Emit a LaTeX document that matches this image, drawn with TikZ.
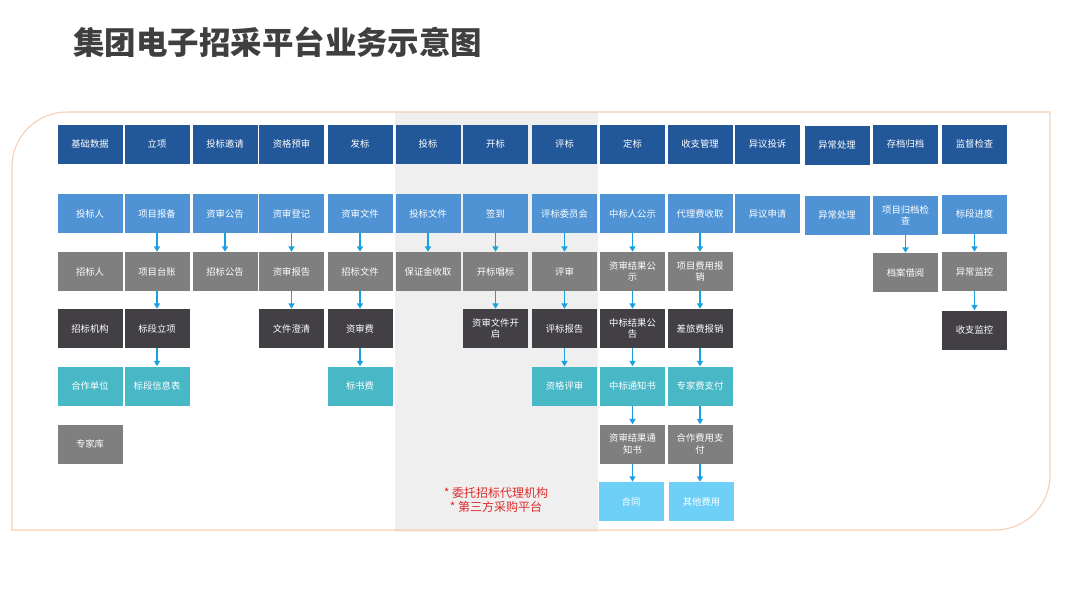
\documentclass[tikz,border=0pt]{standalone}
\usepackage{fontspec}
\setmainfont{Noto Sans CJK SC}
\usetikzlibrary{arrows.meta}

\definecolor{hdrblue}{HTML}{22579A}
\definecolor{stepblue}{HTML}{4F93D5}
\definecolor{boxgray}{HTML}{7F7F7F}
\definecolor{boxdark}{HTML}{423F45}
\definecolor{boxteal}{HTML}{48B8C7}
\definecolor{boxsky}{HTML}{6FD0F7}
\definecolor{flowblue}{HTML}{1AA0E0}
\definecolor{bandgray}{HTML}{EFEFEF}
\definecolor{framepeach}{HTML}{F5CFB5}
\definecolor{titlegray}{HTML}{3F3F3F}
\definecolor{notered}{HTML}{E02B2B}

\tikzset{
  box/.style={minimum width=48.75pt, minimum height=29.25pt, inner sep=0pt,
    align=center, text=white, font=\fontsize{7}{8.5}\selectfont},
  hdr/.style={box, fill=hdrblue},
  lvtwo/.style={box, fill=stepblue},
  lvgray/.style={box, fill=boxgray},
  lvdark/.style={box, fill=boxdark},
  lvteal/.style={box, fill=boxteal},
  lvsky/.style={box, fill=boxsky},
  flow/.style={draw=flowblue, line width=1pt, -{Triangle[length=4pt,width=4.5pt]}}
}

\begin{document}
\begin{tikzpicture}[x=0.75pt, y=-0.75pt]
    \useasboundingbox (0,0) rectangle (1080,607);

    % Title
    \node[anchor=west, inner sep=0pt, text=titlegray, font=\fontsize{23.6}{26}\selectfont\bfseries] (ttl) at (73,42) {集团电子招采平台业务示意图};

    % Shaded band behind the outsourced steps
    \fill[bandgray] (395,112) rectangle (598,532);

    % Frame with two round corners
    \draw[framepeach, line width=0.8pt] (12,530) -- (12,167) .. controls (12,136.6) and (36.6,112) .. (67,112) -- (1050,112) -- (1050,475) .. controls (1050,505.4) and (1025.4,530) .. (995,530) -- cycle;

    % Column 1: base data
    \node[hdr] (c1r1) at (90,144) {基础数据};
    \node[lvtwo] (c1r2) at (90,213.5) {投标人};
    \node[lvgray] (c1r3) at (90,271.5) {招标人};
    \node[lvdark] (c1r4) at (90,328.5) {招标机构};
    \node[lvteal] (c1r5) at (90,386) {合作单位};
    \node[lvgray] (c1r6) at (90,444) {专家库};

    % Column 2: project set-up
    \node[hdr] (c2r1) at (157,144) {立项};
    \node[lvtwo] (c2r2) at (157,213.5) {项目报备};
    \node[lvgray] (c2r3) at (157,271.5) {项目台账};
    \node[lvdark] (c2r4) at (157,328.5) {标段立项};
    \node[lvteal] (c2r5) at (157,386) {标段信息表};

    % Column 3
    \node[hdr] (c3r1) at (225,144) {投标邀请};
    \node[lvtwo] (c3r2) at (225,213.5) {资审公告};
    \node[lvgray] (c3r3) at (225,271.5) {招标公告};

    % Column 4
    \node[hdr] (c4r1) at (291.5,144) {资格预审};
    \node[lvtwo] (c4r2) at (291.5,213.5) {资审登记};
    \node[lvgray] (c4r3) at (291.5,271.5) {资审报告};
    \node[lvdark] (c4r4) at (291.5,328.5) {文件澄清};

    % Column 5
    \node[hdr] (c5r1) at (360,144) {发标};
    \node[lvtwo] (c5r2) at (360,213.5) {资审文件};
    \node[lvgray] (c5r3) at (360,271.5) {招标文件};
    \node[lvdark] (c5r4) at (360,328.5) {资审费};
    \node[lvteal] (c5r5) at (360,386) {标书费};

    % Column 6
    \node[hdr] (c6r1) at (428,144) {投标};
    \node[lvtwo] (c6r2) at (428,213.5) {投标文件};
    \node[lvgray] (c6r3) at (428,271.5) {保证金收取};

    % Column 7
    \node[hdr] (c7r1) at (495.5,144) {开标};
    \node[lvtwo] (c7r2) at (495.5,213.5) {签到};
    \node[lvgray] (c7r3) at (495.5,271.5) {开标唱标};
    \node[lvdark] (c7r4) at (495.5,328.5) {资审文件开\\启};

    % Column 8
    \node[hdr] (c8r1) at (564.5,144) {评标};
    \node[lvtwo] (c8r2) at (564.5,213.5) {评标委员会};
    \node[lvgray] (c8r3) at (564.5,271.5) {评审};
    \node[lvdark] (c8r4) at (564.5,328.5) {评标报告};
    \node[lvteal] (c8r5) at (564.5,386) {资格评审};

    % Column 9
    \node[hdr] (c9r1) at (632.5,144) {定标};
    \node[lvtwo] (c9r2) at (632.5,213.5) {中标人公示};
    \node[lvgray] (c9r3) at (632.5,271.5) {资审结果公\\示};
    \node[lvdark] (c9r4) at (632.5,328.5) {中标结果公\\告};
    \node[lvteal] (c9r5) at (632.5,386) {中标通知书};
    \node[lvgray] (c9r6) at (632.5,444) {资审结果通\\知书};
    \node[lvsky] (c9r7) at (631,501.5) {合同};

    % Column 10
    \node[hdr] (c10r1) at (700,144) {收支管理};
    \node[lvtwo] (c10r2) at (700,213.5) {代理费收取};
    \node[lvgray] (c10r3) at (700,271.5) {项目费用报\\销};
    \node[lvdark] (c10r4) at (700,328.5) {差旅费报销};
    \node[lvteal] (c10r5) at (700,386) {专家费支付};
    \node[lvgray] (c10r6) at (700,444) {合作费用支\\付};
    \node[lvsky] (c10r7) at (701.5,501.5) {其他费用};

    % Columns 11 to 14
    \node[hdr] (c11r1) at (767.5,144) {异议投诉};
    \node[lvtwo] (c11r2) at (767.5,213.5) {异议申请};
    \node[hdr] (c12r1) at (837,145) {异常处理};
    \node[lvtwo] (c12r2) at (837,215) {异常处理};
    \node[hdr] (c13r1) at (905.5,144) {存档归档};
    \node[lvtwo] (c13r2) at (905.5,215) {项目归档检\\查};
    \node[lvgray] (c13r3) at (905.5,272.5) {档案借阅};
    \node[hdr] (c14r1) at (974.5,144) {监督检查};
    \node[lvtwo] (c14r2) at (974.5,214) {标段进度};
    \node[lvgray] (c14r3) at (974.5,271.5) {异常监控};
    \node[lvdark] (c14r4) at (974.5,330) {收支监控};

    % Note in the shaded band
    \node[align=center, text=notered, font=\fontsize{9}{10.5}\selectfont] (note) at (496,500) {* 委托招标代理机构\\* 第三方采购平台};

    % Draw the flows
    \draw[flow] (c2r2) -- (c2r3);
    \draw[flow] (c2r3) -- (c2r4);
    \draw[flow] (c2r4) -- (c2r5);
    \draw[flow] (c3r2) -- (c3r3);
    \draw[flow] (c4r2) -- (c4r3);
    \draw[flow] (c4r3) -- (c4r4);
    \draw[flow] (c5r2) -- (c5r3);
    \draw[flow] (c5r3) -- (c5r4);
    \draw[flow] (c5r4) -- (c5r5);
    \draw[flow] (c6r2) -- (c6r3);
    \draw[flow] (c7r2) -- (c7r3);
    \draw[flow] (c7r3) -- (c7r4);
    \draw[flow] (c8r2) -- (c8r3);
    \draw[flow] (c8r3) -- (c8r4);
    \draw[flow] (c8r4) -- (c8r5);
    \draw[flow] (c9r2) -- (c9r3);
    \draw[flow] (c9r3) -- (c9r4);
    \draw[flow] (c9r4) -- (c9r5);
    \draw[flow] (c9r5) -- (c9r6);
    \draw[flow] (c9r6.south) -- (c9r7.north -| c9r6.south);
    \draw[flow] (c10r2) -- (c10r3);
    \draw[flow] (c10r3) -- (c10r4);
    \draw[flow] (c10r4) -- (c10r5);
    \draw[flow] (c10r5) -- (c10r6);
    \draw[flow] (c10r6.south) -- (c10r7.north -| c10r6.south);
    \draw[flow] (c13r2) -- (c13r3);
    \draw[flow] (c14r2) -- (c14r3);
    \draw[flow] (c14r3) -- (c14r4);

\end{tikzpicture}
\end{document}
